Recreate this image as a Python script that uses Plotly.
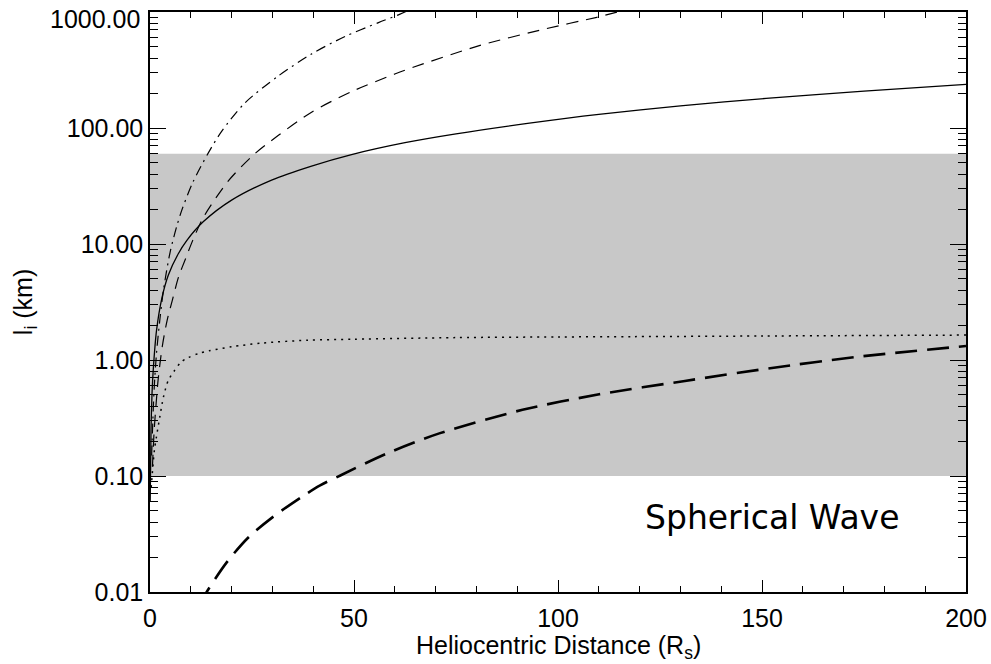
import plotly.graph_objects as go

# ---- data ----
solid_x = [0.05, 0.25, 0.5, 0.82, 1.6, 2.9, 4.5, 6.9, 9.0, 13.1, 20, 29.8, 39.6, 49.4, 62.5, 75, 93, 110, 130, 151, 175, 200]
solid_y = [0.06, 0.25, 0.52, 0.85, 1.8, 3.4, 5.4, 8.2, 10.7, 15.6, 23.9, 35.6, 47, 59, 74.7, 89, 110, 131, 155, 180, 208, 238]

dashed_x = [0.6, 1.0, 1.5, 2.0, 3.0, 4.2, 5.5, 7.0, 8.8, 10.5, 13.1, 19.2, 25.7, 31.4, 39.6, 49.4, 60, 64.5, 80.9, 97.2, 109.5, 115]
dashed_y = [0.12, 0.24, 0.42, 0.68, 1.3, 2.2, 3.3, 5.2, 7.6, 10.8, 17, 35, 60, 86, 137, 206, 292, 334, 515, 720, 900, 1010]

dashdot_x = [0.4, 1.0, 1.6, 2.4, 3.3, 4.9, 6.5, 7.8, 10.5, 14.3, 17.6, 23.3, 31.4, 39.6, 47.8, 56, 60.9, 63]
dashdot_y = [0.15, 0.55, 1.15, 2.2, 4.0, 8.4, 14.0, 19.6, 34, 61, 94, 165, 280, 435, 615, 810, 945, 1020]

dotted_x = [0.3, 0.7, 1.1, 1.6, 2.45, 3.3, 4.5, 5.9, 7.5, 9.4, 12, 14.5, 20, 27.5, 38.5, 50, 75, 100, 118.5, 150, 200]
dotted_y = [0.08, 0.12, 0.17, 0.22, 0.33, 0.48, 0.67, 0.8, 0.95, 1.05, 1.14, 1.2, 1.3, 1.4, 1.48, 1.51, 1.56, 1.58, 1.59, 1.61, 1.64]

longdash_x = [12, 13.9, 18.8, 24.1, 30, 36.9, 41.7, 46.9, 57.8, 70.9, 91.3, 110.1, 131.1, 152, 172.9, 200]
longdash_y = [0.0075, 0.01, 0.018, 0.0295, 0.044, 0.065, 0.083, 0.102, 0.155, 0.233, 0.372, 0.506, 0.66, 0.85, 1.06, 1.32]

band_x = [0, 200, 200, 0]
band_y = [0.1, 0.1, 60, 60]

x_range = [0, 200]
x_major = [0, 50, 100, 150, 200]
x_labels = ["0", "50", "100", "150", "200"]
x_minor = [v for v in range(10, 200, 10) if v % 50 != 0]
y_major = [0.01, 0.1, 1, 10, 100, 1000]
y_labels = ["0.01", "0.10", "1.00", "10.00", "100.00", "1000.00"]
y_minor = [m * 10.0 ** e for e in range(-2, 3) for m in range(2, 10)]

FONT = "Liberation Sans, Arial, sans-serif"

fig = go.Figure()

fig.add_trace(go.Scatter(x=band_x, y=band_y, fill="toself", fillcolor="#c8c8c8",
                         line=dict(width=0, color="#c8c8c8"), mode="lines",
                         hoverinfo="skip", showlegend=False))

def add_line(x, y, dash, width=1.2):
    fig.add_trace(go.Scatter(x=x, y=y, mode="lines", showlegend=False, hoverinfo="skip",
                             line=dict(color="black", width=width, dash=dash, shape="spline", smoothing=0.8)))

add_line(solid_x, solid_y, "solid", 1.3)
add_line(dashed_x, dashed_y, "12px,8px", 1.2)
add_line(dashdot_x, dashdot_y, "10px,5px,2px,5px", 1.2)
add_line(dotted_x, dotted_y, "2px,5px", 1.5)
add_line(longdash_x, longdash_y, "22px,10px", 2.6)

# invisible trace so the overlay axes (minor ticks) get drawn
fig.add_trace(go.Scatter(x=[None], y=[None], xaxis="x2", yaxis="y2", mode="lines",
                         showlegend=False, hoverinfo="skip"))

# the top label is drawn separately (pushed slightly down so it stays inside the page)
y_ticktext = y_labels[:-1] + [""]

fig.update_layout(
    width=991, height=664,
    margin=dict(l=150, r=25, t=12, b=72, autoexpand=False),
    paper_bgcolor="white", plot_bgcolor="white",
    font=dict(family=FONT, size=25, color="black"),
    showlegend=False,
    xaxis=dict(
        range=x_range, showgrid=False, zeroline=False, automargin=False,
        showline=True, linecolor="black", linewidth=1.5, mirror="ticks",
        ticks="inside", ticklen=12, tickwidth=1.3, tickcolor="black",
        tickmode="array", tickvals=x_major, ticktext=x_labels,
        tickfont=dict(family=FONT, size=25), ticklabelstandoff=3,
        ticklabeloverflow="allow",
    ),
    xaxis2=dict(
        range=x_range, overlaying="x", anchor="y", side="bottom",
        showgrid=False, zeroline=False, automargin=False, showline=False,
        mirror="ticks", ticks="inside", ticklen=6, tickwidth=1.3, tickcolor="black",
        tickmode="array", tickvals=x_minor, showticklabels=False,
    ),
    yaxis=dict(
        type="log", range=[-2, 3], showgrid=False, zeroline=False, automargin=False,
        showline=True, linecolor="black", linewidth=1.5, mirror="ticks",
        ticks="inside", ticklen=16, tickwidth=1.3, tickcolor="black",
        tickmode="array", tickvals=y_major, ticktext=y_ticktext,
        tickfont=dict(family=FONT, size=25), ticklabelstandoff=0,
        ticklabeloverflow="allow",
    ),
    yaxis2=dict(
        type="log", range=[-2, 3], overlaying="y", anchor="x", side="left",
        showgrid=False, zeroline=False, automargin=False, showline=False,
        mirror="ticks", ticks="inside", ticklen=8, tickwidth=1.3, tickcolor="black",
        tickmode="array", tickvals=y_minor, showticklabels=False,
    ),
)

fig.add_annotation(text=y_labels[-1], xref="paper", yref="paper", x=0, y=1,
                   xanchor="right", yanchor="middle", xshift=-8, yshift=-7,
                   showarrow=False, font=dict(family=FONT, size=25))
fig.add_annotation(text="Heliocentric Distance (R<sub>s</sub>)", xref="paper", yref="paper",
                   x=0.5, y=-0.095, xanchor="center", yanchor="middle", showarrow=False,
                   font=dict(family=FONT, size=25))
fig.add_annotation(text="l<sub>i</sub> (km)", xref="paper", yref="paper",
                   x=-0.153, y=0.5, xanchor="center", yanchor="middle", showarrow=False,
                   textangle=-90, font=dict(family=FONT, size=25))
fig.add_annotation(text="Spherical Wave", xref="paper", yref="paper",
                   x=0.762, y=0.128, xanchor="center", yanchor="middle", showarrow=False,
                   font=dict(family="DejaVu Sans, sans-serif", size=33))

fig.write_html("out.html")
